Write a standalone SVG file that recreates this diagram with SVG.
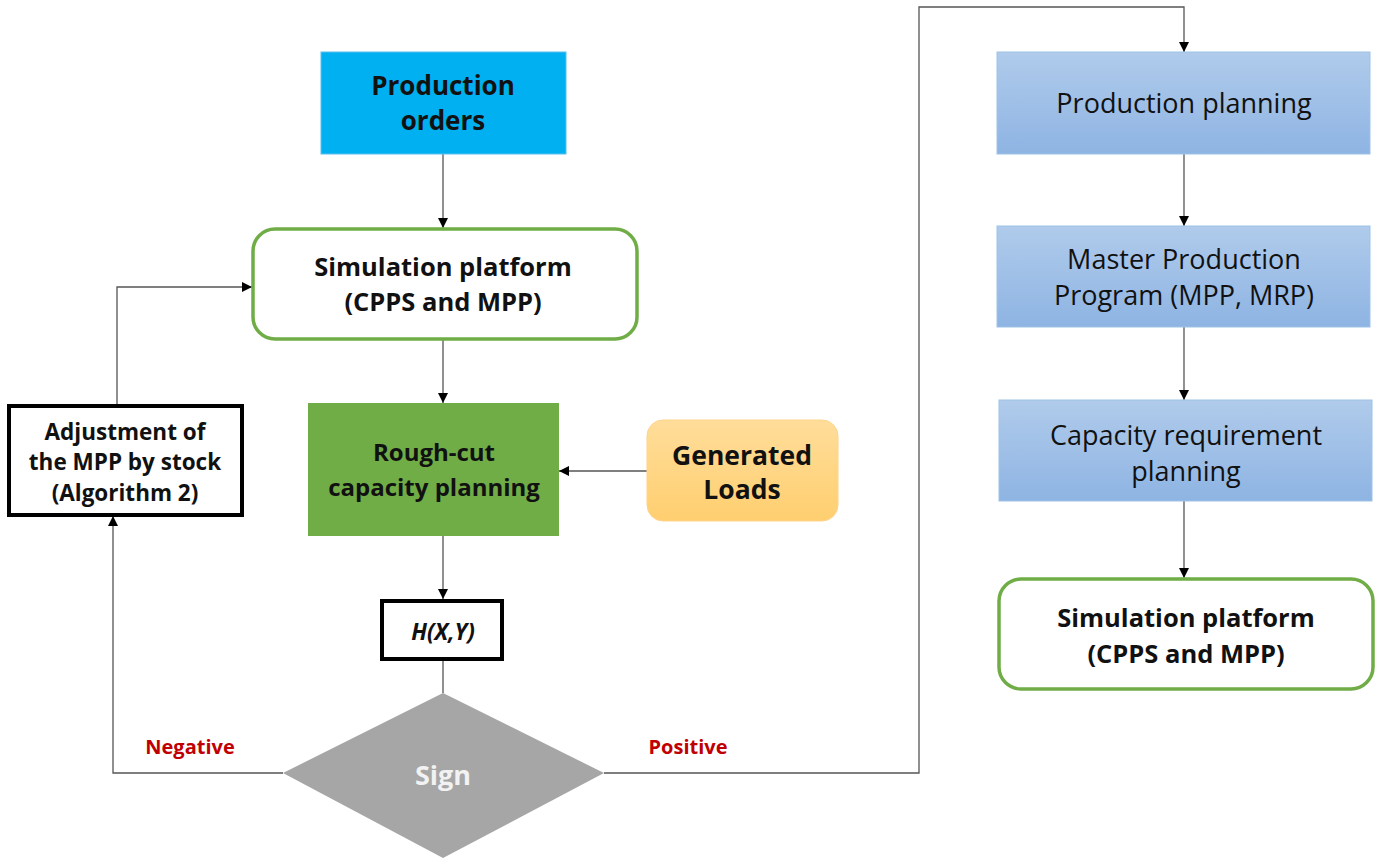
<svg xmlns="http://www.w3.org/2000/svg" width="1380" height="861" viewBox="0 0 1380 861">
  <defs>
    <linearGradient id="blueGrad" x1="0" y1="0" x2="0" y2="1">
      <stop offset="0" stop-color="#b0cbeb"/>
      <stop offset="1" stop-color="#8eb4e3"/>
    </linearGradient>
    <linearGradient id="yellowGrad" x1="0" y1="0" x2="0" y2="1">
      <stop offset="0" stop-color="#ffdd9a"/>
      <stop offset="1" stop-color="#ffcf70"/>
    </linearGradient>
    <marker id="arrow" viewBox="0 0 10 10" refX="10" refY="5" markerWidth="10" markerHeight="10" markerUnits="userSpaceOnUse" orient="auto">
      <path d="M0,0 L10,5 L0,10 z" fill="#000"/>
    </marker>
  </defs>
  <style>
    text { font-family: "Open Sans", "Noto Sans", sans-serif; text-anchor: middle; }
    .bold { font-weight: bold; fill: #111; }
    .reg { fill: #111; }
    .conn { fill: none; stroke: #555; stroke-width: 1.3; }
    .blue { fill: url(#blueGrad); stroke: #9dc3e6; stroke-width: 1; }
    .greenOutline { fill: #fff; stroke: #70ad47; stroke-width: 3.5; }
    .blackBox { fill: #fff; stroke: #000; stroke-width: 4; }
    .label { font-weight: bold; fill: #c00000; font-size: 20px; }
  </style>
  <rect width="1380" height="861" fill="#fff"/>

  <g id="connectors">
    <path class="conn" d="M443,154 V228" marker-end="url(#arrow)"/>
    <path class="conn" d="M443,339 V403" marker-end="url(#arrow)"/>
    <path class="conn" d="M443,536 V599" marker-end="url(#arrow)"/>
    <path class="conn" d="M443,660 V693"/>
    <path class="conn" d="M647,471 H559" marker-end="url(#arrow)"/>
    <path class="conn" d="M283,773 H113 V516" marker-end="url(#arrow)"/>
    <path class="conn" d="M117,404 V287 H252" marker-end="url(#arrow)"/>
    <path class="conn" d="M604,773 H919 V7 H1184 V52" marker-end="url(#arrow)"/>
    <path class="conn" d="M1184,154 V226" marker-end="url(#arrow)"/>
    <path class="conn" d="M1184,327 V400" marker-end="url(#arrow)"/>
    <path class="conn" d="M1184,501 V578" marker-end="url(#arrow)"/>
  </g>

  <g id="production-orders">
    <rect x="321" y="52" width="245" height="102" fill="#00b0f0" stroke="#5bc0f0" stroke-width="1"/>
    <text class="bold" x="443" y="95" font-size="26">Production</text>
    <text class="bold" x="443" y="130" font-size="26">orders</text>
  </g>

  <g id="simulation-platform-left">
    <rect class="greenOutline" x="253" y="229" width="384" height="110" rx="22"/>
    <text class="bold" x="443" y="276" font-size="25.5">Simulation platform</text>
    <text class="bold" x="443" y="311" font-size="25.5">(CPPS and MPP)</text>
  </g>

  <g id="rough-cut">
    <rect x="308" y="403" width="251" height="133" fill="#70ad47"/>
    <text class="bold" x="434" y="461" font-size="24">Rough-cut</text>
    <text class="bold" x="434" y="496" font-size="24">capacity planning</text>
  </g>

  <g id="generated-loads">
    <rect x="647" y="420" width="191" height="101" rx="16" fill="url(#yellowGrad)" stroke="#ffd38a" stroke-width="1"/>
    <text class="bold" x="742" y="465" font-size="26.5">Generated</text>
    <text class="bold" x="742" y="499" font-size="26.5">Loads</text>
  </g>

  <g id="adjustment">
    <rect class="blackBox" x="9" y="406" width="233" height="109"/>
    <text class="bold" x="125" y="440" font-size="22.5">Adjustment of</text>
    <text class="bold" x="125" y="470" font-size="22.5">the MPP by stock</text>
    <text class="bold" x="125" y="501" font-size="22.5">(Algorithm 2)</text>
  </g>

  <g id="hxy">
    <rect class="blackBox" x="382" y="601" width="120" height="58"/>
    <text class="bold" x="443" y="640" font-size="22.5" font-style="italic">H(X,Y)</text>
  </g>

  <g id="sign">
    <polygon points="443,693 604,773 443,858 283,773" fill="#a6a6a6"/>
    <text x="443" y="785" font-size="27" font-weight="bold" fill="#f2f2f2">Sign</text>
  </g>

  <g id="branch-labels">
    <text class="label" x="190" y="754">Negative</text>
    <text class="label" x="688" y="754">Positive</text>
  </g>

  <g id="production-planning">
    <rect class="blue" x="997" y="52" width="373" height="102"/>
    <text class="reg" x="1184" y="113" font-size="27">Production planning</text>
  </g>

  <g id="master-production">
    <rect class="blue" x="997" y="226" width="373" height="101"/>
    <text class="reg" x="1184" y="269" font-size="27">Master Production</text>
    <text class="reg" x="1184" y="305" font-size="27">Program (MPP, MRP)</text>
  </g>

  <g id="capacity-requirement">
    <rect class="blue" x="999" y="400" width="373" height="101"/>
    <text class="reg" x="1186" y="445" font-size="27">Capacity requirement</text>
    <text class="reg" x="1186" y="481" font-size="27">planning</text>
  </g>

  <g id="simulation-platform-right">
    <rect class="greenOutline" x="999" y="579" width="374" height="110" rx="22"/>
    <text class="bold" x="1186" y="627" font-size="25.5">Simulation platform</text>
    <text class="bold" x="1186" y="663" font-size="25.5">(CPPS and MPP)</text>
  </g>
</svg>
